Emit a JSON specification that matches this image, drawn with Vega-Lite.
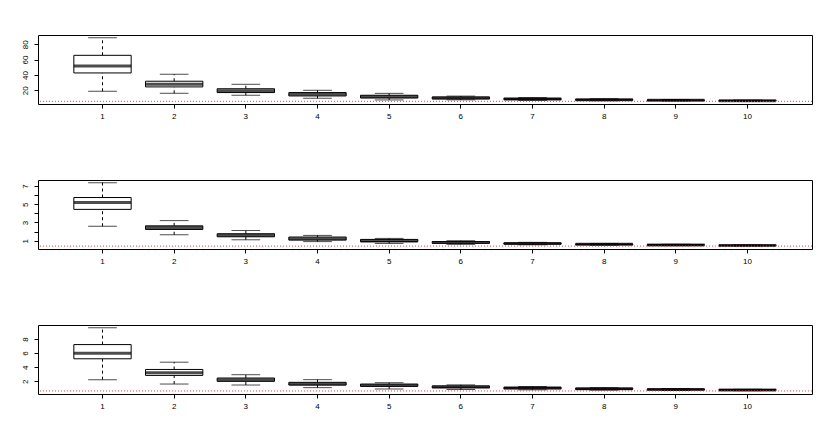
{
  "$schema": "https://vega.github.io/schema/vega-lite/v6.json",
  "padding": {"left": 20, "top": 34, "right": 5, "bottom": 5},
  "background": "white",
  "bounds": "flush",
  "spacing": 76,
  "datasets": {
    "p1": [
      {"idx": 1, "lo": 18.7, "q1": 42.6, "med": 51.7, "q3": 65.6, "hi": 88.6},
      {"idx": 2, "lo": 16.1, "q1": 24.4, "med": 27.9, "q3": 31.8, "hi": 40.9},
      {"idx": 3, "lo": 13.5, "q1": 17.0, "med": 19.5, "q3": 22.0, "hi": 27.8},
      {"idx": 4, "lo": 9.6, "q1": 12.6, "med": 14.8, "q3": 17.0, "hi": 20.0},
      {"idx": 5, "lo": 7.4, "q1": 10.0, "med": 11.7, "q3": 13.5, "hi": 16.0},
      {"idx": 6, "lo": 7.5, "q1": 8.8, "med": 9.9, "q3": 11.2, "hi": 12.4},
      {"idx": 7, "lo": 6.8, "q1": 7.8, "med": 8.6, "q3": 9.5, "hi": 10.5},
      {"idx": 8, "lo": 6.3, "q1": 7.0, "med": 7.6, "q3": 8.2, "hi": 9.0},
      {"idx": 9, "lo": 6.0, "q1": 6.5, "med": 6.9, "q3": 7.4, "hi": 8.0},
      {"idx": 10, "lo": 5.7, "q1": 6.1, "med": 6.4, "q3": 6.8, "hi": 7.2}
    ],
    "p2": [
      {"idx": 1, "lo": 2.58, "q1": 4.43, "med": 5.19, "q3": 5.73, "hi": 7.36},
      {"idx": 2, "lo": 1.65, "q1": 2.23, "med": 2.44, "q3": 2.63, "hi": 3.2},
      {"idx": 3, "lo": 1.1, "q1": 1.43, "med": 1.6, "q3": 1.76, "hi": 2.12},
      {"idx": 4, "lo": 0.9, "q1": 1.07, "med": 1.22, "q3": 1.4, "hi": 1.58},
      {"idx": 5, "lo": 0.7, "q1": 0.9, "med": 0.96, "q3": 1.14, "hi": 1.25},
      {"idx": 6, "lo": 0.6, "q1": 0.72, "med": 0.8, "q3": 0.9, "hi": 1.0},
      {"idx": 7, "lo": 0.55, "q1": 0.63, "med": 0.68, "q3": 0.75, "hi": 0.82},
      {"idx": 8, "lo": 0.5, "q1": 0.56, "med": 0.6, "q3": 0.65, "hi": 0.7},
      {"idx": 9, "lo": 0.46, "q1": 0.5, "med": 0.53, "q3": 0.57, "hi": 0.61},
      {"idx": 10, "lo": 0.43, "q1": 0.46, "med": 0.48, "q3": 0.51, "hi": 0.54}
    ],
    "p3": [
      {"idx": 1, "lo": 2.24, "q1": 5.19, "med": 5.97, "q3": 7.2, "hi": 9.59},
      {"idx": 2, "lo": 1.62, "q1": 2.84, "med": 3.22, "q3": 3.68, "hi": 4.71},
      {"idx": 3, "lo": 1.48, "q1": 2.0, "med": 2.24, "q3": 2.47, "hi": 2.94},
      {"idx": 4, "lo": 1.11, "q1": 1.48, "med": 1.62, "q3": 1.86, "hi": 2.24},
      {"idx": 5, "lo": 0.92, "q1": 1.3, "med": 1.42, "q3": 1.62, "hi": 1.81},
      {"idx": 6, "lo": 0.85, "q1": 1.1, "med": 1.2, "q3": 1.35, "hi": 1.5},
      {"idx": 7, "lo": 0.8, "q1": 0.95, "med": 1.05, "q3": 1.15, "hi": 1.27},
      {"idx": 8, "lo": 0.75, "q1": 0.87, "med": 0.95, "q3": 1.02, "hi": 1.1},
      {"idx": 9, "lo": 0.7, "q1": 0.8, "med": 0.86, "q3": 0.92, "hi": 0.98},
      {"idx": 10, "lo": 0.68, "q1": 0.74, "med": 0.78, "q3": 0.83, "hi": 0.88}
    ],
    "ref1": [{"h": 5.6}],
    "ref2": [{"h": 0.41}],
    "ref3": [{"h": 0.64}]
  },
  "vconcat": [
    {
      "width": 774, "height": 69,
      "data": {"name": "p1"},
      "resolve": {"axis": {"y": "independent"}},
      "encoding": {
        "x": {"field": "idx", "type": "ordinal", "scale": {"type": "band", "paddingInner": 0, "paddingOuter": 0.4}, "axis": {"title": null, "labelAngle": 0}}
      },
      "layer": [
        {"mark": {"type": "rule", "color": "black", "strokeDash": [3, 3], "strokeWidth": 1}, "encoding": {"y": {"field": "lo", "type": "quantitative", "scale": {"domain": [2.1, 92.1], "nice": false, "zero": false}, "axis": {"title": null, "values": [20, 40, 60, 80], "labelOverlap": false, "labelAngle": 270, "labelAlign": "center", "labelBaseline": "bottom"}}, "y2": {"field": "q1"}}},
        {"mark": {"type": "rule", "color": "black", "strokeDash": [3, 3], "strokeWidth": 1}, "encoding": {"y": {"field": "q3", "type": "quantitative", "axis": null}, "y2": {"field": "hi"}}},
        {"mark": {"type": "tick", "color": "black", "thickness": 1, "size": 28.7}, "encoding": {"y": {"field": "lo", "type": "quantitative", "axis": null}}},
        {"mark": {"type": "tick", "color": "black", "thickness": 1, "size": 28.7}, "encoding": {"y": {"field": "hi", "type": "quantitative", "axis": null}}},
        {"mark": {"type": "bar", "width": {"band": 0.8}, "fill": "white", "stroke": "black", "strokeWidth": 1}, "encoding": {"y": {"field": "q1", "type": "quantitative", "axis": null}, "y2": {"field": "q3"}}},
        {"mark": {"type": "tick", "color": "black", "thickness": 3, "size": 57.3}, "encoding": {"y": {"field": "med", "type": "quantitative", "axis": null}}},
        {"data": {"name": "ref1"}, "mark": {"type": "rule", "color": "#f04040", "strokeDash": [1, 2], "strokeWidth": 1}, "encoding": {"y": {"field": "h", "type": "quantitative", "axis": null}, "x": null}}
      ]
    },
    {
      "width": 774, "height": 69,
      "data": {"name": "p2"},
      "resolve": {"axis": {"y": "independent"}},
      "encoding": {
        "x": {"field": "idx", "type": "ordinal", "scale": {"type": "band", "paddingInner": 0, "paddingOuter": 0.4}, "axis": {"title": null, "labelAngle": 0}}
      },
      "layer": [
        {"mark": {"type": "rule", "color": "black", "strokeDash": [3, 3], "strokeWidth": 1}, "encoding": {"y": {"field": "lo", "type": "quantitative", "scale": {"domain": [0.09, 7.65], "nice": false, "zero": false}, "axis": {"title": null, "values": [1, 2, 3, 4, 5, 6, 7], "labelExpr": "datum.value % 2 == 1 ? datum.label : ''", "labelOverlap": false, "labelAngle": 270, "labelAlign": "center", "labelBaseline": "bottom"}}, "y2": {"field": "q1"}}},
        {"mark": {"type": "rule", "color": "black", "strokeDash": [3, 3], "strokeWidth": 1}, "encoding": {"y": {"field": "q3", "type": "quantitative", "axis": null}, "y2": {"field": "hi"}}},
        {"mark": {"type": "tick", "color": "black", "thickness": 1, "size": 28.7}, "encoding": {"y": {"field": "lo", "type": "quantitative", "axis": null}}},
        {"mark": {"type": "tick", "color": "black", "thickness": 1, "size": 28.7}, "encoding": {"y": {"field": "hi", "type": "quantitative", "axis": null}}},
        {"mark": {"type": "bar", "width": {"band": 0.8}, "fill": "white", "stroke": "black", "strokeWidth": 1}, "encoding": {"y": {"field": "q1", "type": "quantitative", "axis": null}, "y2": {"field": "q3"}}},
        {"mark": {"type": "tick", "color": "black", "thickness": 3, "size": 57.3}, "encoding": {"y": {"field": "med", "type": "quantitative", "axis": null}}},
        {"data": {"name": "ref2"}, "mark": {"type": "rule", "color": "#f04040", "strokeDash": [1, 2], "strokeWidth": 1}, "encoding": {"y": {"field": "h", "type": "quantitative", "axis": null}, "x": null}}
      ]
    },
    {
      "width": 774, "height": 69,
      "data": {"name": "p3"},
      "resolve": {"axis": {"y": "independent"}},
      "encoding": {
        "x": {"field": "idx", "type": "ordinal", "scale": {"type": "band", "paddingInner": 0, "paddingOuter": 0.4}, "axis": {"title": null, "labelAngle": 0}}
      },
      "layer": [
        {"mark": {"type": "rule", "color": "black", "strokeDash": [3, 3], "strokeWidth": 1}, "encoding": {"y": {"field": "lo", "type": "quantitative", "scale": {"domain": [0.21, 9.97], "nice": false, "zero": false}, "axis": {"title": null, "values": [2, 4, 6, 8], "labelOverlap": false, "labelAngle": 270, "labelAlign": "center", "labelBaseline": "bottom"}}, "y2": {"field": "q1"}}},
        {"mark": {"type": "rule", "color": "black", "strokeDash": [3, 3], "strokeWidth": 1}, "encoding": {"y": {"field": "q3", "type": "quantitative", "axis": null}, "y2": {"field": "hi"}}},
        {"mark": {"type": "tick", "color": "black", "thickness": 1, "size": 28.7}, "encoding": {"y": {"field": "lo", "type": "quantitative", "axis": null}}},
        {"mark": {"type": "tick", "color": "black", "thickness": 1, "size": 28.7}, "encoding": {"y": {"field": "hi", "type": "quantitative", "axis": null}}},
        {"mark": {"type": "bar", "width": {"band": 0.8}, "fill": "white", "stroke": "black", "strokeWidth": 1}, "encoding": {"y": {"field": "q1", "type": "quantitative", "axis": null}, "y2": {"field": "q3"}}},
        {"mark": {"type": "tick", "color": "black", "thickness": 3, "size": 57.3}, "encoding": {"y": {"field": "med", "type": "quantitative", "axis": null}}},
        {"data": {"name": "ref3"}, "mark": {"type": "rule", "color": "#f04040", "strokeDash": [1, 2], "strokeWidth": 1}, "encoding": {"y": {"field": "h", "type": "quantitative", "axis": null}, "x": null}}
      ]
    }
  ],
  "config": {
    "view": {"stroke": "black", "strokeWidth": 1},
    "axis": {"domain": false, "grid": false, "labelFont": "Liberation Sans", "labelFontSize": 8, "labelColor": "black", "tickColor": "black", "tickSize": 4, "labelPadding": 4, "labelOverlap": false},
    "axisY": {"labelPadding": 5}
  }
}
